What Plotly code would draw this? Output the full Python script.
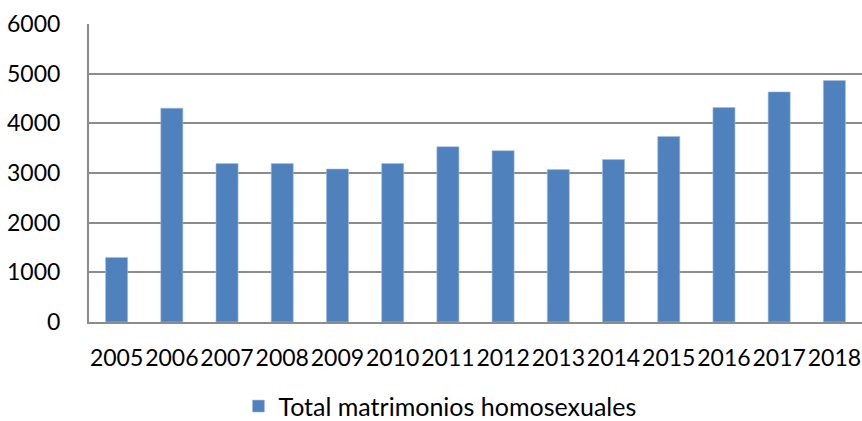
import plotly.graph_objects as go

years = ["2005", "2006", "2007", "2008", "2009", "2010", "2011",
         "2012", "2013", "2014", "2015", "2016", "2017", "2018"]
totals = [1300, 4305, 3190, 3190, 3080, 3190, 3530,
          3450, 3068, 3270, 3735, 4318, 4633, 4863]
series_name = "Total matrimonios homosexuales"
y_ticks = [0, 1000, 2000, 3000, 4000, 5000, 6000]

FONT = "Lato"
GRID = "#8c8c8c"

fig = go.Figure()
fig.add_trace(go.Bar(
    x=years, y=totals, name=series_name,
    marker=dict(color="#4F81BD", line=dict(color="#a9c0e0", width=0.6)),
    showlegend=True,
))

fig.update_layout(
    width=862, height=421,
    margin=dict(l=89, r=0, t=24, b=99, autoexpand=False),
    paper_bgcolor="white", plot_bgcolor="white",
    bargap=0.6,
    font=dict(family=FONT, size=23, color="#000000"),
    showlegend=True,
    legend=dict(orientation="h", x=0.454, xanchor="center", y=-0.283, yanchor="middle",
                font=dict(family=FONT, size=25, color="#000000")),
)
fig.update_xaxes(
    type="category", tickangle=0, showgrid=False, automargin=False,
    showline=True, linecolor=GRID, linewidth=2,
    ticks="", ticklabelstandoff=14,
    tickfont=dict(family=FONT, size=23, color="#000000"),
)
fig.update_yaxes(
    range=[0, 6000], tickvals=y_ticks, ticktext=[str(v) for v in y_ticks],
    showgrid=True, gridcolor=GRID, gridwidth=2, automargin=False,
    showline=True, linecolor=GRID, linewidth=2,
    zeroline=False, ticks="", ticklabelstandoff=22,
    tickfont=dict(family=FONT, size=23, color="#000000"),
)

fig.write_html(
    "out.html",
    config={"displayModeBar": False},
    post_script="document.body.style.margin='0';document.body.style.overflow='hidden';",
)
